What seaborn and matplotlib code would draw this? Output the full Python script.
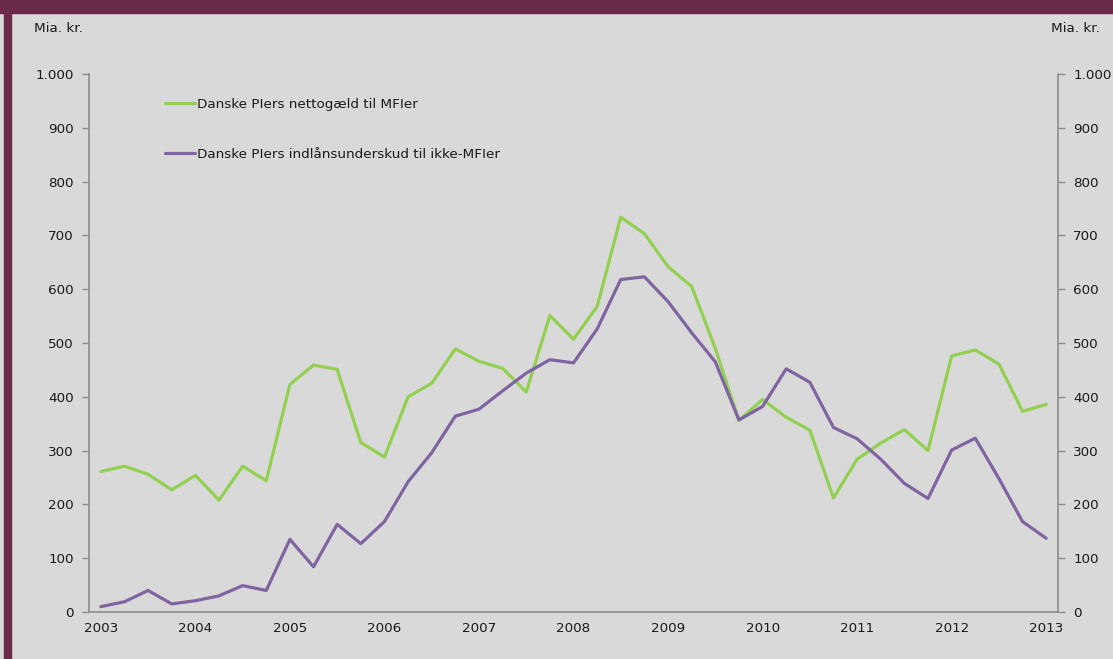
import matplotlib
matplotlib.use("Agg")
import matplotlib.pyplot as plt
import seaborn as sns
import pandas as pd
import numpy as np
from matplotlib.ticker import FuncFormatter, FixedLocator
from matplotlib.patches import Rectangle
from matplotlib.lines import Line2D

# ---- data (quarterly, 2003Q1 .. 2013Q1) ----
quarters = [f"{y}K{q}" for y in range(2003, 2014) for q in range(1, 5)][:41]
year_labels = ["2003", "2004", "2005", "2006", "2007", "2008", "2009", "2010", "2011", "2012", "2013"]
netto_gaeld = [261, 271, 256, 227, 254, 208, 271, 244, 423, 459, 451, 315, 288, 400, 425, 489,
               466, 453, 409, 551, 507, 568, 734, 703, 642, 605, 490, 356, 395, 362, 338, 212,
               284, 314, 339, 300, 476, 487, 461, 373, 386]
indlaan_underskud = [10, 19, 40, 15, 21, 30, 49, 40, 135, 84, 163, 127, 168, 242, 296, 364,
                     377, 411, 444, 469, 463, 526, 618, 623, 577, 519, 465, 357, 382, 452, 427, 343,
                     322, 284, 239, 211, 301, 323, 248, 168, 137]
series_names = ["Danske PIers nettogæld til MFIer", "Danske PIers indlånsunderskud til ikke-MFIer"]
y_ticks = [0, 100, 200, 300, 400, 500, 600, 700, 800, 900, 1000]

df = pd.DataFrame({
    "idx": list(range(len(quarters))) * 2,
    "value": netto_gaeld + indlaan_underskud,
    "serie": [series_names[0]] * len(quarters) + [series_names[1]] * len(quarters),
})

GREEN = "#92d050"
PURPLE = "#8064a2"
BG = "#d9d9d9"
MAROON = "#6b2b48"
AXC = "#8c8c8c"
FS = 9.7
LW = 2.3

sns.set_theme(style="white")
plt.rcParams["font.family"] = ["DejaVu Sans"]

W, H = 1113, 659
fig = plt.figure(figsize=(W / 100, H / 100), dpi=100)
fig.patch.set_facecolor(BG)
# maroon frame (top band and left band)
fig.add_artist(Rectangle((0, 1 - 13 / H), 1, 13 / H, transform=fig.transFigure, color=MAROON, zorder=0))
fig.add_artist(Rectangle((4 / W, 0), 7 / W, 1, transform=fig.transFigure, color=MAROON, zorder=0))

x0, x1 = 89 / W, 1058 / W
yb, yt = 1 - 612 / H, 1 - 74 / H
ax = fig.add_axes([x0, yb, x1 - x0, yt - yb])
ax.set_facecolor(BG)

sns.lineplot(data=df, x="idx", y="value", hue="serie", palette=[GREEN, PURPLE],
             linewidth=LW, ax=ax, legend=False, sort=False)

n = len(quarters)
ax.set_xlim(-0.5, n - 0.5)
ax.set_ylim(0, 1000)

for s in ["top", "right"]:
    ax.spines[s].set_visible(False)
for s in ["left", "bottom"]:
    ax.spines[s].set_color(AXC)
    ax.spines[s].set_linewidth(1.2)

# x axis: year labels at category centres, tick marks between categories
ax.xaxis.set_major_locator(FixedLocator(list(range(0, n, 4))))
ax.set_xticklabels(year_labels, fontsize=FS, color="#1a1a1a")
ax.xaxis.set_minor_locator(FixedLocator(list(np.arange(-0.5, n, 1.0))))
ax.tick_params(axis="x", which="major", length=0, pad=7)
ax.tick_params(axis="x", which="minor", length=5, width=1, color=AXC, direction="out")
ax.set_xlabel("")

fmt = FuncFormatter(lambda v, p: f"{int(v):,}".replace(",", "."))
ax.set_yticks(y_ticks)
ax.yaxis.set_major_formatter(fmt)
ax.tick_params(axis="y", which="major", length=5, width=1, color=AXC, direction="out",
               labelsize=FS, labelcolor="#1a1a1a", pad=6)
ax.set_ylabel("")

# right axis
ax2 = ax.twinx()
ax2.set_ylim(0, 1000)
ax2.set_yticks(y_ticks)
ax2.yaxis.set_major_formatter(fmt)
for s in ["top", "left", "bottom"]:
    ax2.spines[s].set_visible(False)
ax2.spines["right"].set_color(AXC)
ax2.spines["right"].set_linewidth(1.2)
ax2.tick_params(axis="y", which="major", length=5, width=1, color=AXC, direction="out",
                labelsize=FS, labelcolor="#1a1a1a", pad=6)

# unit labels
fig.text(34 / W, 1 - 28 / H, "Mia. kr.", fontsize=FS, color="#1a1a1a", va="center", ha="left")
fig.text(1100 / W, 1 - 28 / H, "Mia. kr.", fontsize=FS, color="#1a1a1a", va="center", ha="right")

# legend
handles = [Line2D([0], [0], color=GREEN, lw=LW), Line2D([0], [0], color=PURPLE, lw=LW)]
fs_px = FS * 100 / 72
leg = ax.legend(handles, series_names, loc="upper left",
                bbox_to_anchor=((165 - 89) / (1058 - 89), (612 - 98) / (612 - 74)),
                frameon=False, fontsize=FS, handlelength=30 / fs_px, handletextpad=2 / fs_px,
                labelspacing=(50 - fs_px) / fs_px, borderpad=0, borderaxespad=0)
for t in leg.get_texts():
    t.set_color("#1a1a1a")

fig.savefig("out.png", dpi=100, facecolor=fig.get_facecolor())
